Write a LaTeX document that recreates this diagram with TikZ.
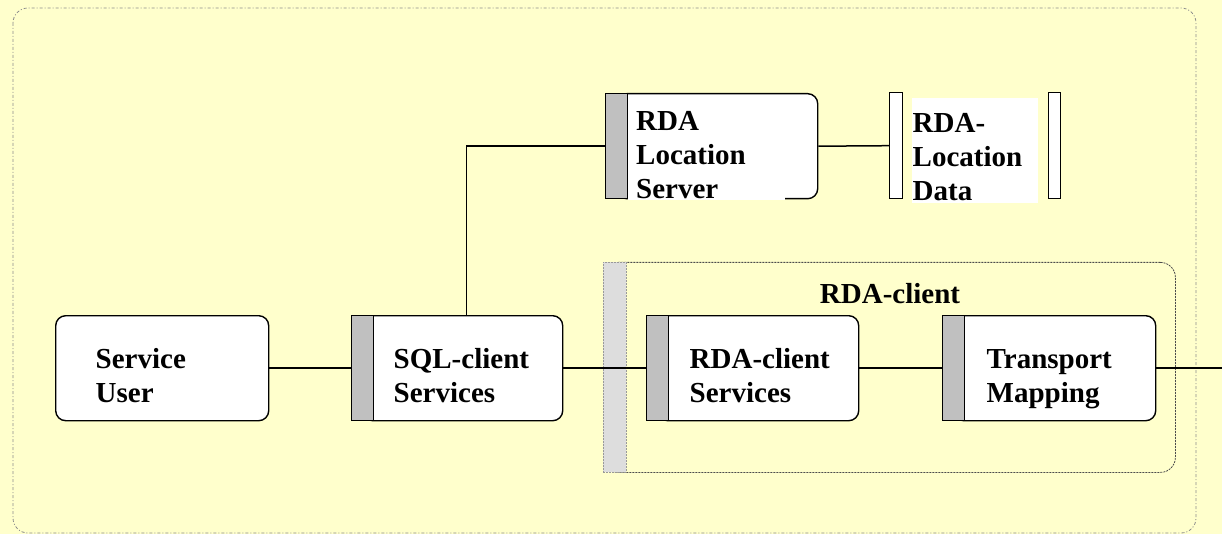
\documentclass[tikz,border=0pt]{standalone}
\usepackage{fontspec}
\setmainfont{Liberation Serif}
\usetikzlibrary{positioning}
\definecolor{bgyellow}{HTML}{FFFFCC}
\definecolor{bargray}{HTML}{C0C0C0}
\definecolor{stripgray}{HTML}{DDDDDD}
% struts that set the text inside the boxes
\newcommand{\tstrut}{\rule{0pt}{43pt}}
\newcommand{\bstrut}{\rule[-8pt]{0pt}{8pt}}
\newcommand{\ttop}{\rule{0pt}{34pt}}
\exhyphenpenalty=10000
\hyphenpenalty=10000

\begin{document}
\begin{tikzpicture}[x=1pt, y=-1pt,
  box/.style={draw, fill=white, line width=1.4pt, rounded corners=10pt, anchor=north west,
    align=left, minimum height=105pt, inner ysep=0pt, font=\bfseries\fontsize{29}{34}\selectfont},
  bar/.style={draw, fill=bargray, line width=1.4pt, anchor=north west,
    minimum width=22pt, minimum height=105pt, inner sep=0pt},
  txt/.style={fill=white, anchor=north west, align=left, inner ysep=0pt,
    font=\bfseries\fontsize{29}{34}\selectfont},
  link/.style={line width=1.5pt}]
\useasboundingbox (0,0) rectangle (1222,534);
\fill[bgyellow] (0,0) rectangle (1222,534);

% Outer frame
\draw[black!45, dash pattern=on 3pt off 2pt on 1pt off 2pt, line width=0.8pt, rounded corners=15pt]
  (13,8) rectangle (1196,533);

% RDA-client region
\node[draw=black!70, dash pattern=on 2pt off 1pt, line width=0.8pt, rounded corners=15pt, anchor=north west,
  minimum width=572pt, minimum height=210pt, inner sep=0pt] (rdac) at (603,262) {};
\node[fill=stripgray, draw=black!40, dash pattern=on 2pt off 1pt, line width=0.8pt, anchor=north west,
  minimum width=23pt, minimum height=210pt, inner sep=0pt] (rdacbar) at (rdac.north west) {};
\node[font=\bfseries\fontsize{29}{34}\selectfont, anchor=base] (rdactitle) at (890,304) {RDA-client};

% Service User and SQL-client
\node[box, inner xsep=40pt, text width=133pt] (user) at (55,315) {\tstrut Service\\User\bstrut};
\node[box, inner xsep=31pt, text width=138pt] (sqlc) at (362,315) {\tstrut SQL-client\\Services\bstrut};
\node[bar] (sqlbar) at ([xshift=-11pt]sqlc.north west) {};

% RDA-client Services and Transport Mapping
\node[box, inner xsep=32pt, text width=137pt] (rcs) at (657,315) {\tstrut RDA-client\\Services\bstrut};
\node[bar] (rcsbar) at ([xshift=-11pt]rcs.north west) {};
\node[box, inner xsep=33pt, text width=136pt] (tm) at (953,315) {\tstrut Transport\\Mapping\bstrut};
\node[bar] (tmbar) at ([xshift=-11pt]tm.north west) {};
\coordinate (edge) at (1222,0);

% RDA Location Server
\node[box, minimum width=201pt] (loc) at (616,93) {};
\node[txt, inner xsep=8pt, text width=141pt] (loctext) at (628,96)
  {\ttop RDA\\Location\\Server\rule[-2pt]{0pt}{2pt}};
\node[bar] (locbar) at ([xshift=-11pt]loc.north west) {};

% RDA-Location Data
\node[bar, fill=white, minimum width=13pt, minimum height=106pt] (datal) at (889,92) {};
\node[bar, fill=white, minimum width=12pt, minimum height=106pt] (datar) at (1048,92) {};
\node[txt, inner xsep=0.5pt, text width=125pt] (data) at (912,98)
  {\ttop RDA-\\Location\\Data\rule[-3pt]{0pt}{3pt}};

% Connectors
\draw[link] (user.east) -- (sqlbar.west);
\draw[link] (sqlc.east) -- (rcsbar.west);
\draw[link] ([xshift=4pt]sqlc.north) |- (locbar.west);
\draw[link] (loc.east) -- (datal.west);
\draw[link] (rcs.east) -- (tmbar.west);
\draw[link] (tm.east) -- (tm.east -| edge);
\end{tikzpicture}
\end{document}
